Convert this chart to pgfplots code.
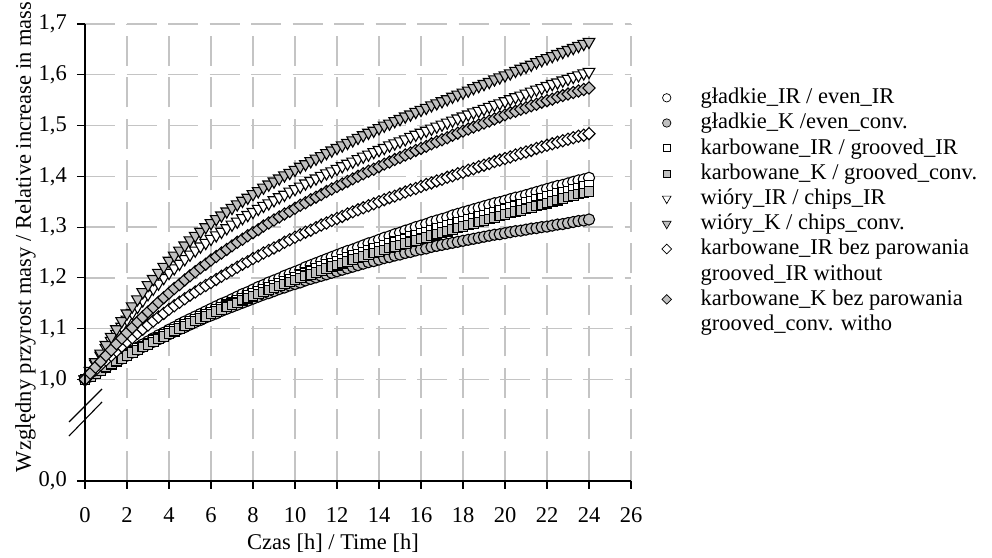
\documentclass[border=0pt]{standalone}
\usepackage{fontspec}
\setmainfont{Liberation Serif}
\usepackage{pgfplots}
\usepackage{pgfplotstable}
\pgfplotsset{compat=1.18}
\definecolor{mfill}{RGB}{192,192,192}
\definecolor{gridc}{RGB}{196,196,196}
\newcommand\fs{\fontsize{22.5bp}{27bp}\selectfont}
\pgfplotstableread{
t A B C D E F G H
0 1.000 1.000 1.000 1.000 1.000 1.000 1.000 1.000
0.25 1.007 1.006 1.006 1.006 1.016 1.017 1.010 1.012
0.5 1.013 1.012 1.013 1.012 1.031 1.034 1.019 1.024
0.75 1.020 1.018 1.019 1.018 1.047 1.051 1.029 1.035
1 1.026 1.024 1.025 1.024 1.062 1.068 1.038 1.047
1.25 1.032 1.030 1.031 1.030 1.076 1.084 1.047 1.058
1.5 1.039 1.036 1.037 1.036 1.090 1.099 1.056 1.070
1.75 1.045 1.041 1.043 1.041 1.104 1.115 1.065 1.081
2 1.051 1.047 1.049 1.047 1.118 1.130 1.074 1.092
2.25 1.057 1.053 1.055 1.053 1.131 1.144 1.082 1.102
2.5 1.063 1.058 1.061 1.058 1.143 1.158 1.091 1.113
2.75 1.069 1.064 1.066 1.064 1.156 1.172 1.099 1.123
3 1.075 1.069 1.072 1.069 1.168 1.186 1.107 1.133
3.25 1.081 1.074 1.078 1.074 1.179 1.198 1.115 1.142
3.5 1.087 1.079 1.083 1.080 1.189 1.210 1.123 1.152
3.75 1.092 1.084 1.089 1.085 1.200 1.222 1.130 1.161
4 1.098 1.089 1.094 1.090 1.210 1.234 1.138 1.170
4.25 1.103 1.094 1.099 1.095 1.219 1.244 1.145 1.179
4.5 1.109 1.099 1.104 1.100 1.228 1.254 1.152 1.187
4.75 1.114 1.103 1.109 1.105 1.237 1.264 1.159 1.196
5 1.119 1.108 1.114 1.110 1.246 1.274 1.166 1.204
5.25 1.124 1.113 1.119 1.115 1.254 1.283 1.172 1.212
5.5 1.129 1.117 1.124 1.120 1.262 1.291 1.179 1.220
5.75 1.134 1.122 1.128 1.124 1.269 1.300 1.185 1.227
6 1.139 1.126 1.133 1.129 1.277 1.308 1.191 1.235
6.25 1.144 1.130 1.138 1.134 1.284 1.316 1.197 1.242
6.5 1.149 1.135 1.142 1.138 1.291 1.323 1.203 1.249
6.75 1.153 1.139 1.147 1.143 1.298 1.331 1.209 1.256
7 1.158 1.143 1.151 1.147 1.305 1.338 1.215 1.263
7.25 1.163 1.147 1.156 1.151 1.311 1.345 1.221 1.270
7.5 1.168 1.151 1.160 1.156 1.318 1.352 1.227 1.276
7.75 1.172 1.155 1.165 1.160 1.324 1.358 1.232 1.283
8 1.177 1.159 1.169 1.164 1.330 1.365 1.238 1.289
8.25 1.182 1.163 1.173 1.168 1.336 1.371 1.243 1.295
8.5 1.186 1.167 1.178 1.172 1.342 1.378 1.249 1.302
8.75 1.191 1.170 1.182 1.176 1.347 1.384 1.254 1.308
9 1.195 1.174 1.186 1.180 1.353 1.390 1.259 1.314
9.25 1.199 1.178 1.190 1.184 1.359 1.396 1.264 1.320
9.5 1.204 1.181 1.194 1.188 1.364 1.402 1.270 1.326
9.75 1.208 1.185 1.198 1.192 1.370 1.407 1.275 1.331
10 1.212 1.188 1.202 1.196 1.375 1.413 1.280 1.337
10.25 1.216 1.191 1.206 1.200 1.380 1.419 1.285 1.343
10.5 1.221 1.195 1.210 1.204 1.386 1.424 1.290 1.348
10.75 1.225 1.198 1.214 1.207 1.391 1.430 1.294 1.354
11 1.229 1.201 1.218 1.211 1.396 1.435 1.299 1.359
11.25 1.233 1.204 1.222 1.215 1.401 1.440 1.304 1.364
11.5 1.237 1.207 1.226 1.218 1.406 1.446 1.308 1.370
11.75 1.241 1.210 1.229 1.222 1.410 1.451 1.313 1.375
12 1.245 1.213 1.233 1.225 1.415 1.456 1.317 1.380
12.25 1.249 1.216 1.237 1.229 1.420 1.461 1.321 1.385
12.5 1.253 1.219 1.240 1.232 1.425 1.466 1.326 1.390
12.75 1.256 1.222 1.244 1.236 1.429 1.471 1.330 1.395
13 1.260 1.225 1.247 1.239 1.434 1.476 1.334 1.400
13.25 1.264 1.228 1.251 1.242 1.439 1.481 1.338 1.405
13.5 1.268 1.231 1.254 1.246 1.443 1.486 1.342 1.410
13.75 1.271 1.233 1.258 1.249 1.448 1.490 1.346 1.414
14 1.275 1.236 1.261 1.252 1.452 1.495 1.350 1.419
14.25 1.279 1.239 1.264 1.255 1.456 1.500 1.354 1.424
14.5 1.282 1.241 1.268 1.259 1.461 1.504 1.358 1.428
14.75 1.286 1.244 1.271 1.262 1.465 1.509 1.361 1.433
15 1.289 1.246 1.274 1.265 1.469 1.513 1.365 1.437
15.25 1.293 1.249 1.277 1.268 1.473 1.518 1.369 1.442
15.5 1.296 1.251 1.281 1.271 1.478 1.522 1.373 1.446
15.75 1.300 1.254 1.284 1.274 1.482 1.527 1.376 1.451
16 1.303 1.256 1.287 1.277 1.486 1.531 1.380 1.455
16.25 1.306 1.258 1.290 1.280 1.490 1.535 1.384 1.459
16.5 1.310 1.261 1.294 1.283 1.494 1.540 1.387 1.464
16.75 1.313 1.263 1.297 1.286 1.498 1.544 1.391 1.468
17 1.316 1.265 1.300 1.289 1.502 1.548 1.394 1.472
17.25 1.319 1.267 1.303 1.292 1.506 1.552 1.398 1.476
17.5 1.323 1.269 1.306 1.295 1.510 1.557 1.401 1.481
17.75 1.326 1.271 1.309 1.298 1.514 1.561 1.405 1.485
18 1.329 1.273 1.312 1.301 1.518 1.565 1.408 1.489
18.25 1.332 1.275 1.315 1.304 1.522 1.569 1.412 1.493
18.5 1.335 1.277 1.318 1.307 1.526 1.574 1.415 1.497
18.75 1.338 1.279 1.321 1.310 1.529 1.578 1.419 1.501
19 1.341 1.281 1.324 1.313 1.533 1.582 1.422 1.505
19.25 1.344 1.283 1.327 1.316 1.537 1.586 1.425 1.509
19.5 1.347 1.285 1.330 1.319 1.541 1.591 1.429 1.513
19.75 1.349 1.286 1.333 1.322 1.544 1.595 1.432 1.517
20 1.352 1.288 1.336 1.325 1.548 1.599 1.435 1.521
20.25 1.355 1.290 1.339 1.328 1.552 1.603 1.438 1.525
20.5 1.358 1.292 1.342 1.331 1.556 1.608 1.442 1.528
20.75 1.360 1.293 1.345 1.333 1.559 1.612 1.445 1.532
21 1.363 1.295 1.348 1.336 1.563 1.616 1.448 1.535
21.25 1.366 1.297 1.351 1.339 1.567 1.620 1.451 1.539
21.5 1.369 1.298 1.354 1.342 1.571 1.625 1.455 1.542
21.75 1.372 1.300 1.357 1.344 1.574 1.629 1.458 1.546
22 1.375 1.301 1.360 1.347 1.578 1.633 1.461 1.549
22.25 1.378 1.303 1.363 1.350 1.582 1.637 1.464 1.552
22.5 1.381 1.305 1.366 1.353 1.585 1.641 1.467 1.556
22.75 1.383 1.306 1.368 1.356 1.589 1.645 1.470 1.559
23 1.386 1.308 1.371 1.359 1.592 1.649 1.473 1.562
23.25 1.389 1.310 1.374 1.362 1.596 1.653 1.476 1.565
23.5 1.392 1.312 1.377 1.365 1.599 1.657 1.479 1.568
23.75 1.394 1.313 1.380 1.367 1.603 1.661 1.481 1.571
24 1.397 1.315 1.383 1.370 1.606 1.665 1.484 1.574
}\data

\begin{document}
\begin{tikzpicture}
\begin{axis}[
  set layers,
  scale only axis, width=546bp, height=457bp,
  xmin=0, xmax=26, ymin=0, ymax=9,
  axis x line=bottom, axis y line=left,
  axis line style={-, black, line width=1.3bp},
  xtick={0,2,...,26}, ytick={0,2,3,4,5,6,7,8,9},
  yticklabels={{0,0},{1,0},{1,1},{1,2},{1,3},{1,4},{1,5},{1,6},{1,7}},
  tick align=outside, major tick length=8bp,
  tick style={black, line width=1.1bp},
  grid=major,
  major grid style={gridc, line width=1.4bp, dash pattern=on 30bp off 11.5bp},
  tick label style={font=\fs},
  /pgf/number format/assume math mode=true,
  yticklabel style={inner sep=0pt, xshift=-10bp},
  xticklabel style={inner sep=0pt, yshift=-18bp},
  xlabel={Czas [h] / Time [h]},
  ylabel={Względny przyrost masy / Relative increase in mass},
  label style={font=\fs},
  xlabel style={at={(axis description cs:0.4542,0)}, anchor=base, yshift=-69bp},
  ylabel style={at={(axis description cs:-0.099,0.534)}, anchor=base},
  clip=false,
  legend cell align=left,
  legend style={draw=none, fill=none, at={(axis description cs:1.0495,0.8665)},
    anchor=north west, inner sep=0pt, row sep=0pt, font=\fs,
    nodes={inner sep=1bp, text height=17.5bp, text depth=5.7bp},
    /tikz/every odd column/.append style={column sep=28bp}},
]
\addplot[forget plot, only marks, mark=*, mark size=5.6bp, mark options={draw=black, fill=white, line width=1.1bp}]
  table[x=t, y expr=(\thisrow{A}-1)*10+2] {\data};
\addplot[forget plot, only marks, mark=*, mark size=5.6bp, mark options={draw=black, fill=mfill, line width=1.1bp}]
  table[x=t, y expr=(\thisrow{B}-1)*10+2] {\data};
\addplot[forget plot, only marks, mark=square*, mark size=4.8bp, mark options={draw=black, fill=white, line width=1.1bp}]
  table[x=t, y expr=(\thisrow{C}-1)*10+2] {\data};
\addplot[forget plot, only marks, mark=square*, mark size=4.8bp, mark options={draw=black, fill=mfill, line width=1.1bp}]
  table[x=t, y expr=(\thisrow{D}-1)*10+2] {\data};
\addplot[forget plot, only marks, mark=triangle*, mark size=6.8bp, mark options={rotate=180, draw=black, fill=white, line width=1.1bp}]
  table[x=t, y expr=(\thisrow{E}-1)*10+2] {\data};
\addplot[forget plot, only marks, mark=triangle*, mark size=6.8bp, mark options={rotate=180, draw=black, fill=mfill, line width=1.1bp}]
  table[x=t, y expr=(\thisrow{F}-1)*10+2] {\data};
\addplot[forget plot, only marks, mark=square*, mark size=4.3bp, mark options={rotate=45, draw=black, fill=white, line width=1.1bp}]
  table[x=t, y expr=(\thisrow{G}-1)*10+2] {\data};
\addplot[forget plot, only marks, mark=square*, mark size=4.3bp, mark options={rotate=45, draw=black, fill=mfill, line width=1.1bp}]
  table[x=t, y expr=(\thisrow{H}-1)*10+2] {\data};

\addlegendimage{only marks, mark=*, mark size=4.2bp, mark options={draw=black, fill=white, line width=0.7bp}}
\addlegendentry{gładkie\_IR / even\_IR}
\addlegendimage{only marks, mark=*, mark size=4.2bp, mark options={draw=black, fill=mfill, line width=0.7bp}}
\addlegendentry{gładkie\_K /even\_conv.}
\addlegendimage{only marks, mark=square*, mark size=3.5bp, mark options={draw=black, fill=white, line width=0.7bp}}
\addlegendentry{karbowane\_IR / grooved\_IR}
\addlegendimage{only marks, mark=square*, mark size=3.5bp, mark options={draw=black, fill=mfill, line width=0.7bp}}
\addlegendentry{karbowane\_K / grooved\_conv.}
\addlegendimage{only marks, mark=triangle*, mark size=5bp, mark options={rotate=180, draw=black, fill=white, line width=0.7bp}}
\addlegendentry{wióry\_IR / chips\_IR}
\addlegendimage{only marks, mark=triangle*, mark size=5bp, mark options={rotate=180, draw=black, fill=mfill, line width=0.7bp}}
\addlegendentry{wióry\_K / chips\_conv.}
\addlegendimage{only marks, mark=square*, mark size=3.4bp, mark options={rotate=45, draw=black, fill=white, line width=0.7bp}}
\addlegendentry{karbowane\_IR bez parowania}
\addlegendimage{empty legend}
\addlegendentry{grooved\_IR without}
\addlegendimage{only marks, mark=square*, mark size=3.4bp, mark options={rotate=45, draw=black, fill=mfill, line width=0.7bp}}
\addlegendentry{karbowane\_K bez parowania}
\addlegendimage{empty legend}
\addlegendentry{grooved\_conv. witho}

\begin{pgfonlayer}{axis foreground}
\draw[black, solid, line width=1.6bp] (axis cs:0,9) -- (axis cs:0,0) -- (axis cs:26,0);
\draw[black, solid, line width=1.1bp] (axis cs:-0.762,1.162) -- (axis cs:0.81,1.812);
\draw[black, solid, line width=1.1bp] (axis cs:-0.762,0.886) -- (axis cs:0.81,1.556);
\end{pgfonlayer}
\end{axis}
\pgfresetboundingbox
\useasboundingbox ([shift={(-85bp,-77bp)}]current axis.south west) rectangle ([shift={(361bp,24bp)}]current axis.north east);
\end{tikzpicture}
\end{document}
